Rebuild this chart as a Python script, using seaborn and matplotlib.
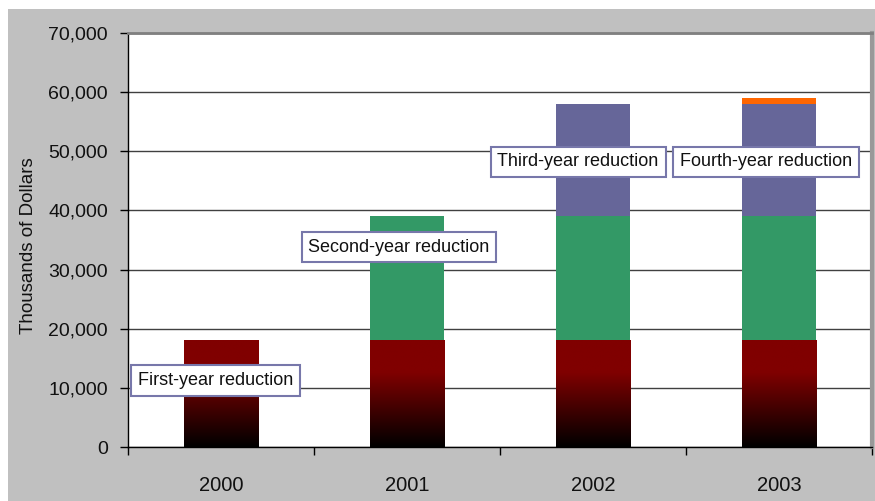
import numpy as np
import pandas as pd
import matplotlib
matplotlib.use("Agg")
import matplotlib.pyplot as plt
from matplotlib.patches import Rectangle
from matplotlib.ticker import FuncFormatter, FixedLocator
import seaborn as sns

# Budget reductions by year (thousands of dollars)
years = ["2000", "2001", "2002", "2003"]
first_year = [18000, 18000, 18000, 18000]
second_year = [0, 21000, 21000, 21000]
third_year = [0, 0, 19000, 19000]
fourth_year = [0, 0, 0, 1000]

series_names = ["First-year reduction", "Second-year reduction",
                "Third-year reduction", "Fourth-year reduction"]
series_colors = ["#800000", "#339966", "#666699", "#FF6600"]

# callout positions (category index, value)
callout_x = [-0.03, 0.957, 1.92, 2.93]
callout_y = [11300, 33800, 48200, 48200]

sns.set_theme(style="white")
plt.rcParams["font.family"] = ["Liberation Sans", "DejaVu Sans"]

fig = plt.figure(figsize=(8.75, 5.01), dpi=100, facecolor="white")
fig.patches.append(Rectangle((8 / 875, 0), 1, (501 - 9) / 501,
                             transform=fig.transFigure, facecolor="#C0C0C0",
                             edgecolor="none", zorder=-10))
ax = fig.add_axes([128 / 875, 54 / 501, 744 / 875, 414 / 501])
ax.set_facecolor("white")

df = pd.DataFrame({"year": years, "s1": first_year, "s2": second_year,
                   "s3": third_year, "s4": fourth_year})
cum = df[["s1", "s2", "s3", "s4"]].cumsum(axis=1)

# stacked bars: draw cumulative totals from the top layer down
for col, color in zip(["s4", "s3", "s2", "s1"], series_colors[::-1]):
    sns.barplot(x=df["year"], y=cum[col], color=color, width=0.4,
                saturation=1, ax=ax, zorder=2, linewidth=0)

# dark red -> black shading on the first-year segment
red_bars = ax.containers[-1]
ramp = np.clip(np.linspace(0, 1, 256) / 0.7, 0, 1)
grad = np.zeros((256, 1, 3))
grad[:, 0, 0] = ramp * (0x80 / 255)
for p in red_bars:
    h = p.get_height()
    if h <= 0:
        continue
    x0 = p.get_x()
    ax.imshow(grad, extent=(x0, x0 + p.get_width(), 0, h), origin="lower",
              aspect="auto", interpolation="bilinear", zorder=2.5)

ax.set_xlim(-0.5, 3.5)
ax.set_ylim(0, 70000)
ax.set_yticks(np.arange(0, 70001, 10000))
ax.yaxis.set_major_formatter(FuncFormatter(lambda v, _: f"{int(v):,}"))
ax.grid(axis="y", color="#404040", linewidth=1.0, zorder=0)
ax.set_axisbelow(True)

ax.set_xlabel("")
ax.set_ylabel("Thousands of Dollars", fontsize=13.5, color="#111111")
ax.yaxis.set_label_coords(-0.122, 0.4855)

ax.tick_params(axis="y", which="major", direction="out", length=6,
               width=1, color="black", pad=8.5, labelsize=14,
               labelcolor="#111111", left=True)
ax.tick_params(axis="x", which="major", length=0, pad=21, labelsize=14.5,
               labelcolor="#111111")
ax.xaxis.set_minor_locator(FixedLocator([-0.5, 0.5, 1.5, 2.5, 3.5]))
ax.tick_params(axis="x", which="minor", direction="out", length=6,
               width=1, color="black", bottom=True)

for side in ["left", "bottom"]:
    ax.spines[side].set_color("black")
    ax.spines[side].set_linewidth(1)
ax.spines["top"].set_color("#808080")
ax.spines["top"].set_linewidth(2)
ax.spines["right"].set_color("#999999")
ax.spines["right"].set_linewidth(3)

for name, cx, cy in zip(series_names, callout_x, callout_y):
    ax.text(cx, cy, name, ha="center", va="center", fontsize=13,
            color="#111111", zorder=5,
            bbox=dict(boxstyle="square,pad=0.38", facecolor="white",
                      edgecolor="#7777aa", linewidth=1.5))

fig.savefig("out.png", dpi=100, facecolor="white")
